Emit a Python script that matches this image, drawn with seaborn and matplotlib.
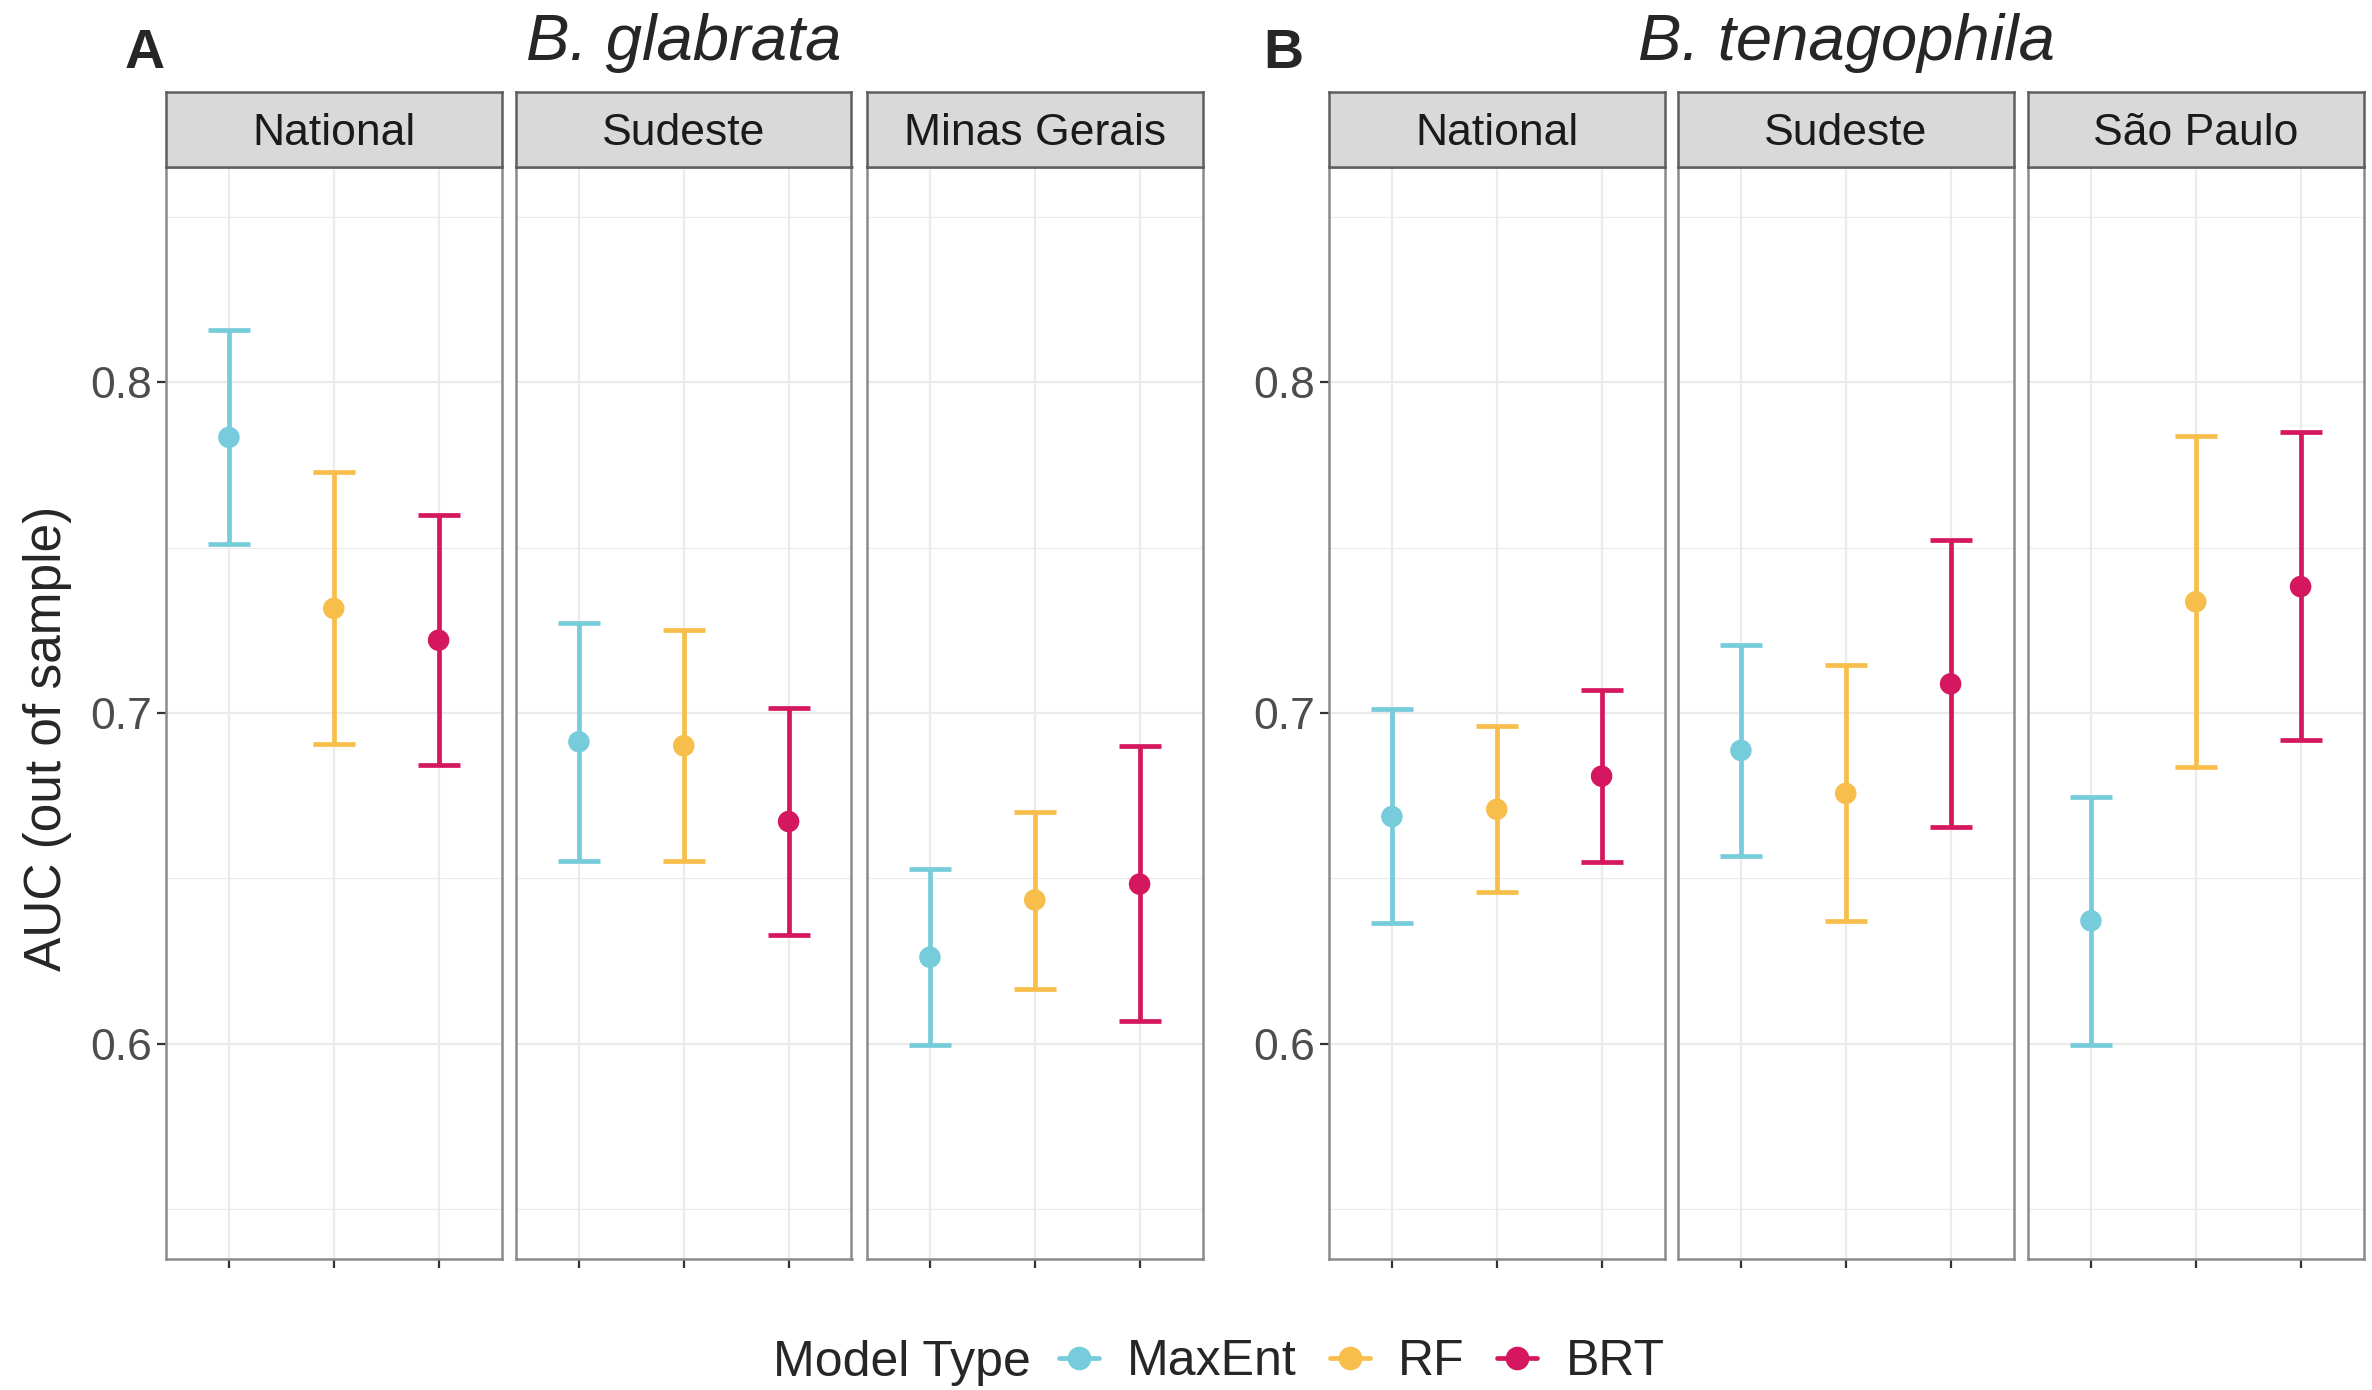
"""AUC (out of sample) by model type, region and species."""

import matplotlib.pyplot as plt
import pandas as pd
import seaborn as sns
from matplotlib.lines import Line2D

MODELS = ["MaxEnt", "RF", "BRT"]
PALETTE = {"MaxEnt": "#76CCDA", "RF": "#F7BE4B", "BRT": "#D4175E"}

# B. glabrata, rows follow glabrata_regions, columns follow MODELS
glabrata_regions = ["National", "Sudeste", "Minas Gerais"]
glabrata_auc = [[0.7833, 0.7316, 0.7220], [0.6913, 0.6901, 0.6672], [0.6262, 0.6435, 0.6483]]
glabrata_low = [[0.7510, 0.6905, 0.6844], [0.6552, 0.6553, 0.6329], [0.5996, 0.6167, 0.6069]]
glabrata_high = [[0.8156, 0.7728, 0.7598], [0.7272, 0.7250, 0.7015], [0.6528, 0.6702, 0.6899]]

# B. tenagophila
tenagophila_regions = ["National", "Sudeste", "São Paulo"]
tenagophila_auc = [[0.6687, 0.6709, 0.6809], [0.6887, 0.6757, 0.7088], [0.6372, 0.7336, 0.7382]]
tenagophila_low = [[0.6364, 0.6458, 0.6550], [0.6569, 0.6370, 0.6656], [0.5997, 0.6836, 0.6919]]
tenagophila_high = [[0.7013, 0.6962, 0.7069], [0.7207, 0.7144, 0.7524], [0.6747, 0.7838, 0.7849]]

Y_MAJOR = [0.6, 0.7, 0.8]
Y_MINOR = [0.55, 0.65, 0.75, 0.85]


def build_frame():
    rows = []
    species = [
        ("B. glabrata", glabrata_regions, glabrata_auc, glabrata_low, glabrata_high),
        ("B. tenagophila", tenagophila_regions, tenagophila_auc, tenagophila_low, tenagophila_high),
    ]
    for name, regions, auc, low, high in species:
        for i, region in enumerate(regions):
            for j, model in enumerate(MODELS):
                rows.append({
                    "Species": name,
                    "Region": region,
                    "Model": model,
                    "AUC": auc[i][j],
                    "Low": low[i][j],
                    "High": high[i][j],
                })
    return pd.DataFrame(rows)


df = build_frame()

sns.set_style("white")
plt.rcParams["font.family"] = ["Liberation Sans", "DejaVu Sans"]

W, H = 2372, 1390
fig = plt.figure(figsize=(W / 200, H / 200), dpi=200)

panel_top, panel_bottom, strip_top = 167, 1259, 92
facet_w = 335.5
lefts = {
    "B. glabrata": [166, 516, 867],
    "B. tenagophila": [1329, 1678, 2028],
}
border = "#8a8a8a"
grid = "#EBEBEB"

for species, regions in [("B. glabrata", glabrata_regions), ("B. tenagophila", tenagophila_regions)]:
    for k, region in enumerate(regions):
        x0 = lefts[species][k]
        ax = fig.add_axes([x0 / W, 1 - panel_bottom / H, facet_w / W, (panel_bottom - panel_top) / H])
        sub = df[(df["Species"] == species) & (df["Region"] == region)]

        for _, r in sub.iterrows():
            ax.errorbar(
                r["Model"], r["AUC"],
                yerr=[[r["AUC"] - r["Low"]], [r["High"] - r["AUC"]]],
                fmt="none", ecolor=PALETTE[r["Model"]],
                elinewidth=1.7, capsize=7.5, capthick=1.7, zorder=3,
            )
        sns.scatterplot(
            data=sub, x="Model", y="AUC", hue="Model", palette=PALETTE,
            s=60, linewidth=0, legend=False, zorder=4, ax=ax,
        )

        ax.set_xlim(-0.6, 2.6)
        ax.set_ylim(0.535, 0.865)
        ax.set_yticks(Y_MAJOR)
        ax.set_yticks(Y_MINOR, minor=True)
        ax.set_yticklabels([f"{v:.1f}" for v in Y_MAJOR])
        ax.grid(True, which="major", color=grid, linewidth=0.8)
        ax.grid(True, which="minor", axis="y", color=grid, linewidth=0.4)
        ax.set_axisbelow(True)
        ax.set_xlabel("")
        ax.set_ylabel("")
        ax.tick_params(axis="x", which="major", bottom=True, labelbottom=False,
                       length=3.2, width=0.8, color="#333333")
        ax.tick_params(axis="y", which="major", left=(k == 0), labelleft=(k == 0),
                       length=3.2, width=0.8, color="#333333", labelsize=16,
                       labelcolor="#4d4d4d", pad=1.8)
        ax.tick_params(axis="y", which="minor", left=False)
        for sp in ax.spines.values():
            sp.set_color(border)
            sp.set_linewidth(0.9)

        # facet strip
        sax = fig.add_axes([x0 / W, 1 - panel_top / H, facet_w / W, (panel_top - strip_top) / H])
        sax.set_facecolor("#D9D9D9")
        sax.set_xticks([])
        sax.set_yticks([])
        for sp in sax.spines.values():
            sp.set_color("#5e5e5e")
            sp.set_linewidth(0.9)
        sax.text(0.5, 0.29, region, ha="center", va="baseline", fontsize=16,
                 color="#1a1a1a", transform=sax.transAxes)

# panel titles and tags
fig.text(683.5 / W, 1 - 60 / H, "B. glabrata", ha="center", va="baseline",
         fontsize=23.5, style="italic")
fig.text(1846.5 / W, 1 - 60 / H, "B. tenagophila", ha="center", va="baseline",
         fontsize=23.5, style="italic")
fig.text(125 / W, 1 - 68 / H, "A", ha="left", va="baseline", fontsize=20, fontweight="bold")
fig.text(1263 / W, 1 - 68 / H, "B", ha="left", va="baseline", fontsize=20, fontweight="bold")

fig.text(48 / W, 1 - 738 / H, "AUC (out of sample)", rotation=90, ha="center", va="center",
         fontsize=18.5)

# legend
fig.text(773 / W, 1 - 1376 / H, "Model Type", ha="left", va="baseline", fontsize=18)
handles = [
    Line2D([0], [0], color=PALETTE[m], marker="o", markersize=7.5, linewidth=1.7)
    for m in MODELS
]
fig.legend(
    handles, MODELS, loc="center left", bbox_to_anchor=(1059 / W, 1 - 1362 / H),
    ncol=3, frameon=False, fontsize=18, handlelength=0.8, handletextpad=0.56,
    columnspacing=0.66, borderpad=0, borderaxespad=0,
)

fig.savefig("out.png", dpi=200)
plt.close(fig)
